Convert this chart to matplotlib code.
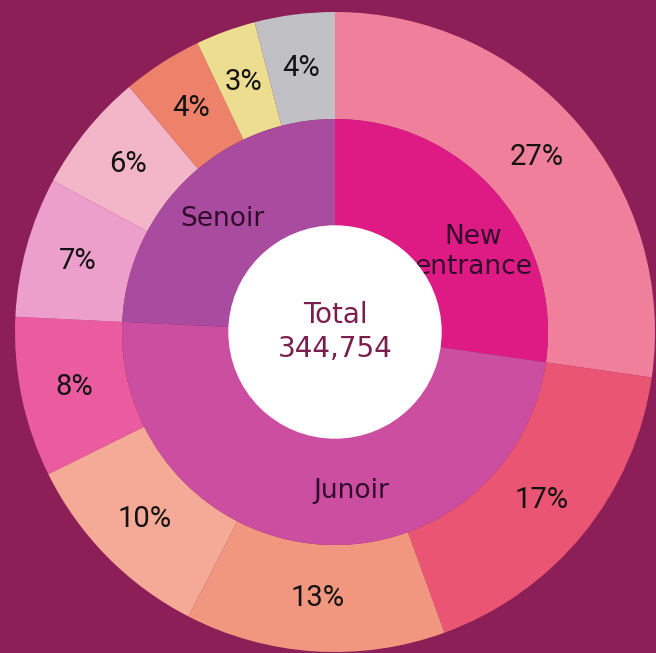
import numpy as np
import matplotlib.pyplot as plt

# outer ring: share of each sub-group (clockwise from 12 o'clock)
outer_vals = [27, 17, 13, 10, 8, 7, 6, 4, 3, 4]
outer_colors = ['#F07F9B', '#EA5573', '#F2977F', '#F5AA97', '#EA5B9F',
                '#ED9FCB', '#F3B6C9', '#EE8169', '#ECDD90', '#C0C0C5']

# inner ring: groups made of the outer slices
inner_names = ['New\nentrance', 'Junoir', 'Senoir']
inner_vals = [27, 48, 24]
inner_colors = ['#DE1B84', '#CC4EA0', '#A94B9E']
inner_label_angles = [30, -84, 135]

total = '344,754'
bg = '#8C1F58'

fig = plt.figure(figsize=(6.56, 6.53), dpi=100, facecolor=bg)
ax = fig.add_axes([0, 0, 1, 1])
ax.set_facecolor(bg)

cx, cy = 335, 321
R = 320
r_mid = 213
r_in = 106

w_out, t_out = ax.pie(outer_vals, colors=outer_colors, radius=R, center=(cx, cy),
                      startangle=90, counterclock=False,
                      labels=[f'{v}%' for v in outer_vals],
                      labeldistance=(R + r_mid) / 2 / R,
                      wedgeprops=dict(width=R - r_mid, linewidth=0),
                      textprops=dict(fontsize=21, color='#121212',
                                     family='Roboto'))
for t in t_out:
    t.set_ha('center')
    t.set_va('center')

w_in, _ = ax.pie(inner_vals, colors=inner_colors, radius=r_mid, center=(cx, cy),
                 startangle=90, counterclock=False,
                 wedgeprops=dict(width=r_mid - r_in, linewidth=0))

# group names sit in the inner ring
rl = (r_mid + r_in) / 2
for name, a in zip(inner_names, inner_label_angles):
    x = cx + rl * np.cos(np.radians(a))
    y = cy + rl * np.sin(np.radians(a))
    ax.text(x, y, name, ha='center', va='center', fontsize=19,
            color='#300C2B', family='DejaVu Sans', linespacing=1.2)

ax.add_patch(plt.Circle((cx, cy), r_in, color='white', zorder=3))
ax.text(cx, cy, 'Total\n' + total, ha='center', va='center', fontsize=20,
        color='#7A1E4E', family='DejaVu Sans', linespacing=1.3, zorder=4)

ax.set_xlim(0, 656)
ax.set_ylim(0, 653)
ax.set_aspect('equal')
ax.axis('off')

fig.savefig('out.png', dpi=100, facecolor=bg)
